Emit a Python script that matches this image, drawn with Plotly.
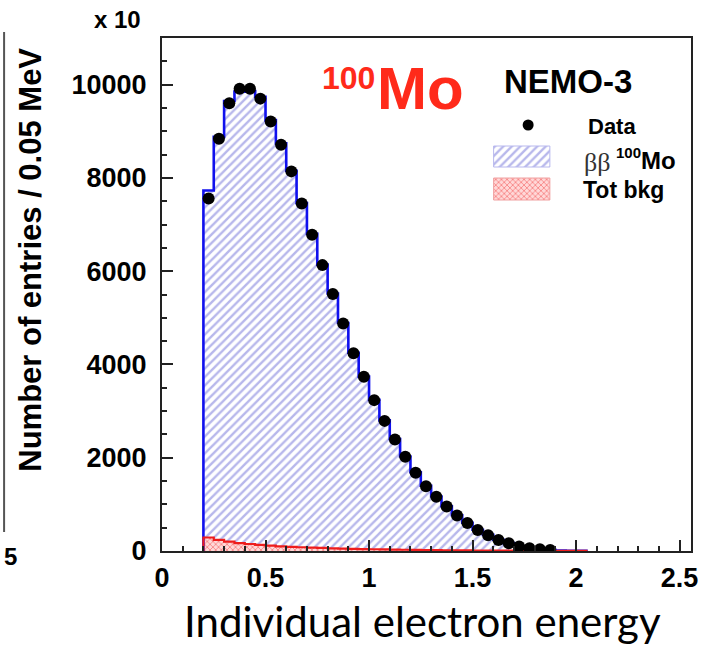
import plotly.graph_objects as go

# ---------------- data ----------------
bin_width = 0.05
hist_start = 0.2
data_centers = [0.225, 0.275, 0.325, 0.375, 0.425, 0.475, 0.525, 0.575, 0.625, 0.675,
                0.725, 0.775, 0.825, 0.875, 0.925, 0.975, 1.025, 1.075, 1.125, 1.175,
                1.225, 1.275, 1.325, 1.375, 1.425, 1.475, 1.525, 1.575, 1.625, 1.675,
                1.725, 1.775, 1.825, 1.875]
data_counts = [7560, 8840, 9600, 9910, 9910, 9700, 9210, 8710, 8140, 7450,
               6780, 6130, 5510, 4880, 4240, 3735, 3235, 2790, 2390, 2020,
               1680, 1390, 1165, 955, 760, 600, 450, 340, 236, 164,
               95, 57, 36, 20]
# MC total (beta-beta 100Mo + background), bins from 0.2 to 2.05
mc_counts = [7730, 8880, 9650, 9850, 9860, 9740, 9240, 8740, 8150, 7460,
             6800, 6140, 5520, 4890, 4250, 3740, 3240, 2800, 2400, 2025,
             1690, 1400, 1170, 960, 765, 605, 455, 345, 240, 168,
             100, 62, 40, 24, 12, 6, 3]
bkg_counts = [290, 240, 200, 170, 150, 130, 115, 100, 90, 80,
              72, 65, 58, 52, 47, 42, 38, 34, 30, 27,
              24, 21, 18, 16, 14, 12, 10, 8, 7, 6,
              5, 4, 3, 2, 2, 1, 1]
x_ticks = [0, 0.5, 1, 1.5, 2, 2.5]
y_ticks = [0, 2000, 4000, 6000, 8000, 10000]

# ---------------- layout geometry ----------------
W, H = 710, 646
L, R, T, B = 162, 698, 38, 551
PW, PH = R - L, B - T


def px(x, y):
    return (x - L) / PW, (B - y) / PH


edges = [hist_start + i * bin_width for i in range(len(mc_counts) + 1)]
centers = [hist_start + (i + 0.5) * bin_width for i in range(len(mc_counts))]

BLUE_HATCH = "#7070d8"
RED = "#ee1c1c"
FONT = "Liberation Sans"

fig = go.Figure()

# MC total hatched histogram
fig.add_trace(go.Bar(
    x=centers, y=mc_counts, width=bin_width,
    marker=dict(color="white", line=dict(width=0),
                pattern=dict(shape="/", fgcolor=BLUE_HATCH, bgcolor="white",
                             size=6, solidity=0.4)),
    showlegend=False, hoverinfo="skip"))
# background histogram
fig.add_trace(go.Bar(
    x=centers, y=bkg_counts, width=bin_width,
    marker=dict(color="white", line=dict(width=0),
                pattern=dict(shape="x", fgcolor=RED, bgcolor="#ffd8d8",
                             size=4, solidity=0.35)),
    showlegend=False, hoverinfo="skip"))

# step outlines
fig.add_trace(go.Scatter(
    x=[edges[0]] + edges, y=[0] + mc_counts + [0],
    mode="lines", line=dict(shape="hv", color="#1010ee", width=2.6),
    showlegend=False, hoverinfo="skip"))
fig.add_trace(go.Scatter(
    x=[edges[0]] + edges, y=[0] + bkg_counts + [0],
    mode="lines", line=dict(shape="hv", color=RED, width=2.2),
    showlegend=False, hoverinfo="skip"))

# data points
fig.add_trace(go.Scatter(
    x=data_centers, y=data_counts, mode="markers",
    marker=dict(color="black", size=12, symbol="circle"),
    showlegend=False))

# ---------------- legend drawn on an overlay axis ----------------
def box(x0, y0, x1, y1):
    a0, b0 = px(x0, y0)
    a1, b1 = px(x1, y1)
    return [a0, a1, a1, a0, a0], [b0, b0, b1, b1, b0]


bx, by = box(498, 146, 555, 167)
fig.add_trace(go.Scatter(
    x=bx, y=by, xaxis="x2", yaxis="y2", mode="lines", fill="toself",
    fillcolor="white", line=dict(color="#b8b8ee", width=1),
    fillpattern=dict(shape="/", fgcolor=BLUE_HATCH, bgcolor="white", size=6, solidity=0.4),
    showlegend=False, hoverinfo="skip"))
rx, ry = box(498, 178, 555, 200)
fig.add_trace(go.Scatter(
    x=rx, y=ry, xaxis="x2", yaxis="y2", mode="lines", fill="toself",
    fillcolor="white", line=dict(color="#f0a0a0", width=1),
    fillpattern=dict(shape="x", fgcolor=RED, bgcolor="#ffd8d8", size=4, solidity=0.35),
    showlegend=False, hoverinfo="skip"))
dx, dy = px(533, 125)
fig.add_trace(go.Scatter(
    x=[dx], y=[dy], xaxis="x2", yaxis="y2", mode="markers",
    marker=dict(color="black", size=11), showlegend=False, hoverinfo="skip"))

annotations = []


def ann(text, x, y, size, color="black", weight="bold", family=FONT, angle=0,
        xanchor="center", yanchor="middle"):
    ax, ay = px(x, y)
    annotations.append(dict(
        text=text, x=ax, y=ay, xref="paper", yref="paper", showarrow=False,
        xanchor=xanchor, yanchor=yanchor, textangle=angle,
        font=dict(family=family, size=size, color=color, weight=weight)))


ann("100", 380, 78, 32, color="#ff2a1a", xanchor="right")
ann("Mo", 378, 88, 60, color="#ff2a1a", xanchor="left")
ann("NEMO-3", 573, 81, 33)
ann("Data", 618, 126, 22)
ann("ββ", 603, 162, 26, color="#333333", weight="normal", family="Liberation Serif")
ann("100", 620, 152, 15, xanchor="left")
ann("Mo", 645, 160, 24, xanchor="left")
ann("Tot bkg", 630, 190, 23)
ann("x 10", 117, 20, 24)
ann("Number of entries / 0.05 MeV", 28, 260, 31, angle=-90)
ann("Individual electron energy", 426, 621, 42, weight="normal", family="Lato")
ann("5", 0, 556, 24, xanchor="left")

axis_common = dict(
    showline=True, mirror=True, linecolor="#222222", linewidth=2,
    ticks="inside", ticklen=11, tickwidth=1.5, tickcolor="#222222",
    showgrid=False, zeroline=False,
    tickfont=dict(family=FONT, size=27, color="black", weight="bold"),
)

fig.update_layout(
    width=W, height=H,
    margin=dict(l=L, r=W - R, t=T, b=H - B, pad=0),
    paper_bgcolor="white", plot_bgcolor="white",
    bargap=0, barmode="overlay",
    annotations=annotations,
    shapes=[dict(type="line", xref="paper", yref="paper",
                 x0=px(2, 0)[0], x1=px(2, 0)[0], y0=px(0, 32)[1], y1=px(0, 532)[1],
                 line=dict(color="#555555", width=2))],
    xaxis=dict(range=[0, 2.555], tickvals=x_ticks, ticktext=[str(t) for t in x_ticks],
               minor=dict(dtick=0.1, ticks="inside", ticklen=5, tickcolor="#222222"),
               ticklabelstandoff=2, **axis_common),
    yaxis=dict(range=[0, 11000], tickvals=y_ticks, ticktext=[str(t) for t in y_ticks],
               minor=dict(dtick=500, ticks="inside", ticklen=5, tickcolor="#222222"),
               ticklabelstandoff=8, **axis_common),
    xaxis2=dict(overlaying="x", range=[0, 1], visible=False),
    yaxis2=dict(overlaying="y", range=[0, 1], visible=False),
)

fig.write_html("out.html")
